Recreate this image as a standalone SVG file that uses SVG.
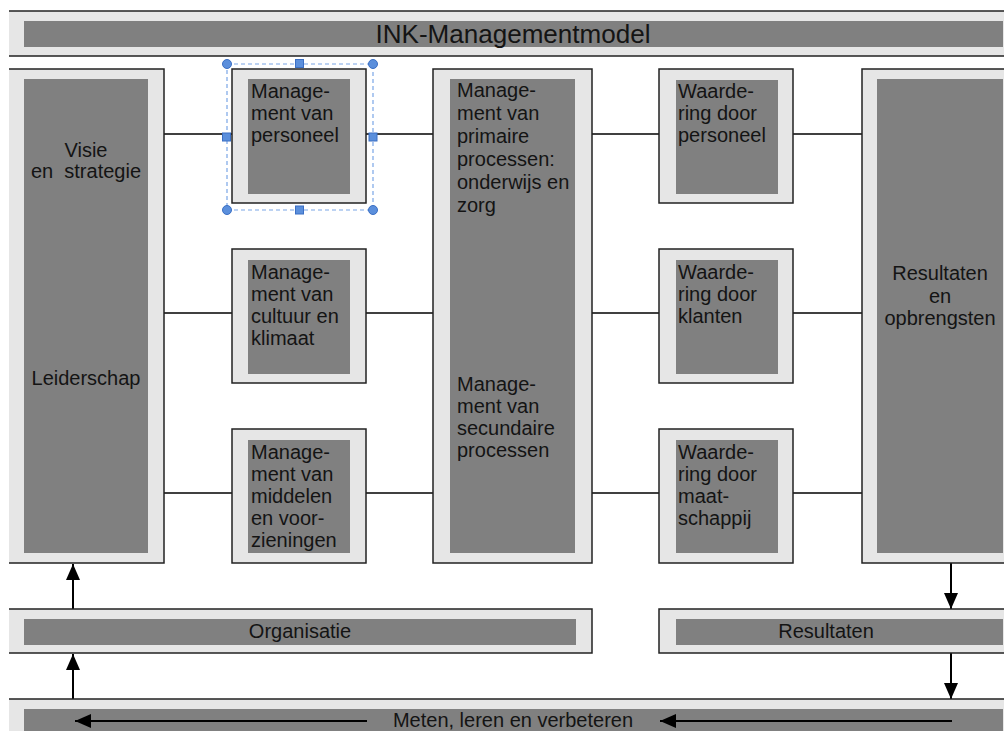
<svg xmlns="http://www.w3.org/2000/svg" width="1004" height="731" viewBox="0 0 1004 731">
<defs>
<clipPath id="clipL"><rect x="9" y="0" width="1000" height="731"/></clipPath>
<marker id="ah" viewBox="0 0 16 14" refX="16" refY="7" markerWidth="16" markerHeight="14" markerUnits="userSpaceOnUse" orient="auto">
<path d="M0,0 L16,7 L0,14 Z" fill="#000"/>
</marker>
</defs>
<style>
.outer{fill:#e6e6e6;stroke:#222;stroke-width:1.5}
.inner{fill:#808080}
.t{font-family:"Liberation Sans",Arial,sans-serif;font-size:20px;fill:#141414}
.c{text-anchor:middle}
.ln{stroke:#000;stroke-width:1.5;fill:none}
.arr{stroke:#000;stroke-width:2;fill:none;marker-end:url(#ah)}
.sel{fill:none;stroke:#7aa6e6;stroke-width:1.2;stroke-dasharray:4 3}
.h{fill:#5b8fdc;stroke:#3b6fc4;stroke-width:1}
</style>
<rect width="1004" height="731" fill="#fff"/>

<g id="connectors">
<line class="ln" x1="164" y1="134" x2="232" y2="134"/>
<line class="ln" x1="366" y1="134" x2="433" y2="134"/>
<line class="ln" x1="592" y1="134" x2="659" y2="134"/>
<line class="ln" x1="793" y1="134" x2="862" y2="134"/>
<line class="ln" x1="164" y1="313" x2="232" y2="313"/>
<line class="ln" x1="366" y1="313" x2="433" y2="313"/>
<line class="ln" x1="592" y1="313" x2="659" y2="313"/>
<line class="ln" x1="793" y1="313" x2="862" y2="313"/>
<line class="ln" x1="164" y1="493" x2="232" y2="493"/>
<line class="ln" x1="366" y1="493" x2="433" y2="493"/>
<line class="ln" x1="592" y1="493" x2="659" y2="493"/>
<line class="ln" x1="793" y1="493" x2="862" y2="493"/>
<line class="arr" x1="73" y1="609" x2="73" y2="564"/>
<line class="arr" x1="73" y1="699" x2="73" y2="654"/>
<line class="arr" x1="951" y1="563" x2="951" y2="609"/>
<line class="arr" x1="951" y1="653" x2="951" y2="699"/>
</g>

<g id="title" clip-path="url(#clipL)">
<rect class="outer" x="4" y="11" width="1010" height="45"/>
<rect class="inner" x="24" y="21" width="979" height="26"/>
<text class="t c" x="513" y="43" style="font-size:25px" textLength="275" lengthAdjust="spacingAndGlyphs">INK-Managementmodel</text>
</g>

<g id="leiderschap" clip-path="url(#clipL)">
<rect class="outer" x="4" y="69" width="160" height="494"/>
<rect class="inner" x="24" y="79" width="124" height="474"/>
<text class="t c" x="86" y="157">Visie</text>
<text class="t c" x="86" y="178" xml:space="preserve">en  strategie</text>
<text class="t c" x="86" y="385">Leiderschap</text>
</g>

<g id="personeel">
<rect class="outer" x="232" y="69" width="134" height="134"/>
<rect class="inner" x="248" y="79" width="102" height="115"/>
<text class="t" x="251" y="98">Manage-</text>
<text class="t" x="251" y="120">ment van</text>
<text class="t" x="251" y="142">personeel</text>
</g>

<g id="selection">
<rect class="sel" x="227" y="64" width="146" height="146"/>
<circle class="h" cx="227" cy="64" r="4.5"/>
<circle class="h" cx="373" cy="64" r="4.5"/>
<circle class="h" cx="227" cy="210" r="4.5"/>
<circle class="h" cx="373" cy="210" r="4.5"/>
<rect class="h" x="295.5" y="59.5" width="8" height="8"/>
<rect class="h" x="295.5" y="206" width="8" height="8"/>
<rect class="h" x="222.5" y="133" width="8" height="8"/>
<rect class="h" x="369" y="133" width="8" height="8"/>
</g>

<g id="cultuur">
<rect class="outer" x="232" y="249" width="134" height="134"/>
<rect class="inner" x="248" y="260" width="102" height="114"/>
<text class="t" x="251" y="279">Manage-</text>
<text class="t" x="251" y="301">ment van</text>
<text class="t" x="251" y="323">cultuur en</text>
<text class="t" x="251" y="345">klimaat</text>
</g>

<g id="middelen">
<rect class="outer" x="232" y="429" width="134" height="134"/>
<rect class="inner" x="248" y="440" width="102" height="113"/>
<text class="t" x="251" y="459">Manage-</text>
<text class="t" x="251" y="481">ment van</text>
<text class="t" x="251" y="503">middelen</text>
<text class="t" x="251" y="525">en voor-</text>
<text class="t" x="251" y="547">zieningen</text>
</g>

<g id="processen">
<rect class="outer" x="433" y="69" width="159" height="494"/>
<rect class="inner" x="450" y="79" width="125" height="474"/>
<text class="t" x="457" y="97">Manage-</text>
<text class="t" x="457" y="120">ment van</text>
<text class="t" x="457" y="143">primaire</text>
<text class="t" x="457" y="166">processen:</text>
<text class="t" x="457" y="189">onderwijs en</text>
<text class="t" x="457" y="212">zorg</text>
<text class="t" x="457" y="391">Manage-</text>
<text class="t" x="457" y="413">ment van</text>
<text class="t" x="457" y="435">secundaire</text>
<text class="t" x="457" y="457">processen</text>
</g>

<g id="w-personeel">
<rect class="outer" x="659" y="69" width="134" height="134"/>
<rect class="inner" x="676" y="80" width="102" height="114"/>
<text class="t" x="678" y="98">Waarde-</text>
<text class="t" x="678" y="120">ring door</text>
<text class="t" x="678" y="142">personeel</text>
</g>

<g id="w-klanten">
<rect class="outer" x="659" y="249" width="134" height="134"/>
<rect class="inner" x="676" y="260" width="102" height="114"/>
<text class="t" x="678" y="279">Waarde-</text>
<text class="t" x="678" y="301">ring door</text>
<text class="t" x="678" y="323">klanten</text>
</g>

<g id="w-maatschappij">
<rect class="outer" x="659" y="429" width="134" height="134"/>
<rect class="inner" x="676" y="440" width="102" height="113"/>
<text class="t" x="678" y="459">Waarde-</text>
<text class="t" x="678" y="481">ring door</text>
<text class="t" x="678" y="503">maat-</text>
<text class="t" x="678" y="525">schappij</text>
</g>

<g id="resultaten-opbrengsten">
<rect class="outer" x="862" y="69" width="160" height="494"/>
<rect class="inner" x="877" y="79" width="126" height="474"/>
<text class="t c" x="940" y="280">Resultaten</text>
<text class="t c" x="940" y="303">en</text>
<text class="t c" x="940" y="325">opbrengsten</text>
</g>

<g id="organisatie" clip-path="url(#clipL)">
<rect class="outer" x="4" y="609" width="588" height="44"/>
<rect class="inner" x="24" y="619" width="552" height="26"/>
<text class="t c" x="300" y="638">Organisatie</text>
</g>

<g id="resultaten">
<rect class="outer" x="659" y="609" width="360" height="44"/>
<rect class="inner" x="676" y="619" width="327" height="26"/>
<text class="t c" x="826" y="638">Resultaten</text>
</g>

<g id="meten" clip-path="url(#clipL)">
<rect class="outer" x="4" y="699" width="1015" height="50"/>
<rect class="inner" x="24" y="709" width="979" height="30"/>
<text class="t c" x="513" y="727">Meten, leren en verbeteren</text>
<line class="arr" x1="367" y1="721" x2="75" y2="721"/>
<line class="arr" x1="952" y1="721" x2="660" y2="721"/>
</g>
</svg>
